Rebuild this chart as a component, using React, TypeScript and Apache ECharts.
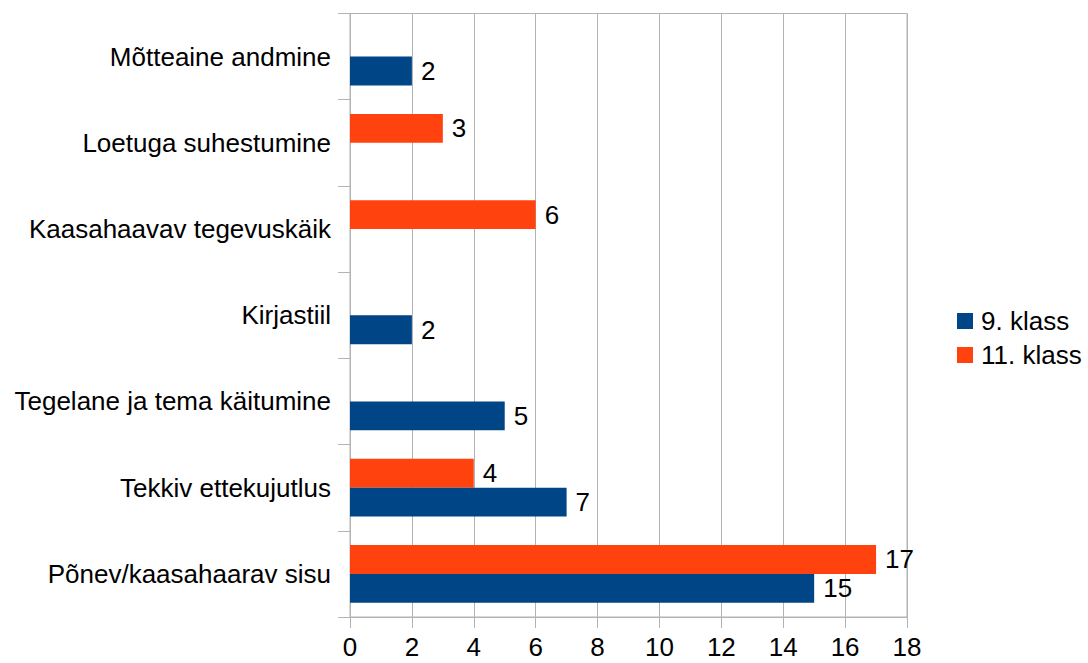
import React, { useEffect, useRef } from "react";
import * as echarts from "echarts";

const categories = [
  "Põnev/kaasahaarav sisu",
  "Tekkiv ettekujutlus",
  "Tegelane ja tema käitumine",
  "Kirjastiil",
  "Kaasahaavav tegevuskäik",
  "Loetuga suhestumine",
  "Mõtteaine andmine",
];
const klass9 = [15, 7, 5, 2, null, null, 2];
const klass11 = [17, 4, null, null, 6, 3, null];
const seriesNames = ["9. klass", "11. klass"];
const colors = ["#004586", "#ff420e"];

const FONT = "'Liberation Sans', Arial, sans-serif";
const FS = 26;

export default function App() {
  const ref = useRef<HTMLDivElement>(null);
  useEffect(() => {
    if (!ref.current) return;
    const chart = echarts.init(ref.current, null, { renderer: "svg" });
    const label = {
      show: true,
      position: "right",
      distance: 9,
      color: "#000",
      fontFamily: FONT,
      fontSize: FS,
    };
    chart.setOption({
      animation: false,
      backgroundColor: "#fff",
      textStyle: { fontFamily: FONT },
      grid: {
        left: 350,
        right: 181,
        top: 13.5,
        bottom: 46,
        show: true,
        borderColor: "#b3b3b3",
        borderWidth: 1,
        containLabel: false,
      },
      legend: {
        orient: "vertical",
        left: 952,
        top: 303,
        itemWidth: 16,
        itemHeight: 16,
        itemGap: 8,
        icon: "rect",
        data: seriesNames,
        textStyle: { fontFamily: FONT, fontSize: FS, color: "#000", padding: [0, 0, 0, 3] },
      },
      xAxis: {
        type: "value",
        min: 0,
        max: 18,
        interval: 2,
        axisLine: { show: true, lineStyle: { color: "#b3b3b3" } },
        axisTick: { show: true, length: 11, lineStyle: { color: "#b3b3b3" } },
        splitLine: { show: true, lineStyle: { color: "#b3b3b3" } },
        axisLabel: {
          color: "#000",
          fontFamily: FONT,
          fontSize: FS,
          lineHeight: 22,
          margin: 19,
        },
      },
      yAxis: {
        type: "category",
        data: categories,
        axisLine: { show: true, lineStyle: { color: "#b3b3b3" } },
        axisTick: { show: true, length: 12, lineStyle: { color: "#b3b3b3" } },
        splitLine: { show: false },
        axisLabel: { color: "#000", fontFamily: FONT, fontSize: FS, margin: 19 },
      },
      series: [
        {
          name: seriesNames[1],
          type: "bar",
          data: klass11,
          itemStyle: { color: colors[1] },
          barGap: "0%",
          barCategoryGap: "33%",
          label,
        },
        {
          name: seriesNames[0],
          type: "bar",
          data: klass9,
          itemStyle: { color: colors[0] },
          barGap: "0%",
          barCategoryGap: "33%",
          label,
        },
      ],
    });
    return () => chart.dispose();
  }, []);
  return (
    <div
      ref={ref}
      style={{ position: "fixed", left: 0, top: 0, width: 1088, height: 663 }}
    />
  );
}
